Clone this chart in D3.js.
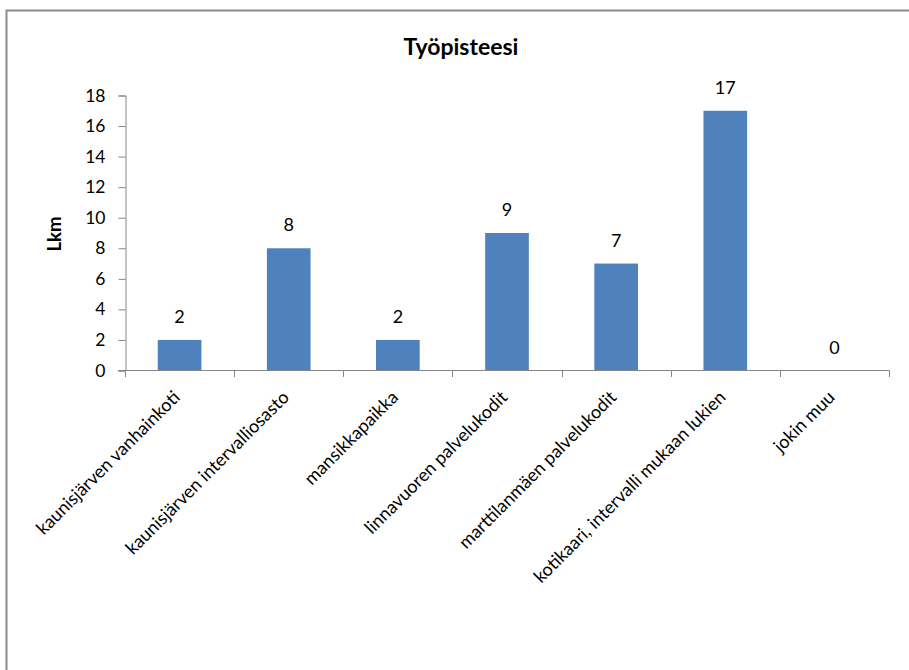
<!DOCTYPE html>
<html>
<head>
<meta charset="utf-8">
<script src="https://cdnjs.cloudflare.com/ajax/libs/d3/7.8.5/d3.min.js"></script>
<style>
  body { margin: 0; background: #fff; }
  svg { display: block; font-family: Lato, "Open Sans", sans-serif; }
</style>
</head>
<body>
<div class="chart"></div>
<script>
// data
const categories = [
  "kaunisjärven vanhainkoti",
  "kaunisjärven intervalliosasto",
  "mansikkapaikka",
  "linnavuoren palvelukodit",
  "marttilanmäen palvelukodit",
  "kotikaari, intervalli mukaan lukien",
  "jokin muu"
];
const counts = [2, 8, 2, 9, 7, 17, 0];
const yTicks = [0, 2, 4, 6, 8, 10, 12, 14, 16, 18];

var width = 909, height = 670;
var axisColor = "#868686";
var fontFam = "Lato, 'Open Sans', sans-serif";

var svg = d3.select(".chart")
    .append("svg")
    .attr("width", width)
    .attr("height", height);

// outer chart border (runs off the right and bottom edge)
svg.append("rect")
    .attr("x", 6.5)
    .attr("y", 10.5)
    .attr("width", 920)
    .attr("height", 680)
    .attr("fill", "#fff")
    .attr("stroke", "#8c8c8c")
    .attr("stroke-width", 2);

var x = d3.scaleBand()
    .domain(categories)
    .range([125, 889])
    .paddingInner(0.6)
    .paddingOuter(0.3);

var y = d3.scaleLinear()
    .domain([0, 18])
    .range([370.5, 95.5]);

svg.append("text")
    .attr("x", 461)
    .attr("y", 55)
    .attr("text-anchor", "middle")
    .attr("font-family", fontFam)
    .attr("font-size", 23)
    .attr("font-weight", "bold")
    .text("Työpisteesi");

svg.append("text")
    .attr("transform", "translate(61,234) rotate(-90)")
    .attr("text-anchor", "middle")
    .attr("font-family", fontFam)
    .attr("font-size", 18.5)
    .attr("font-weight", "bold")
    .text("Lkm");

// bars
svg.selectAll(".bar")
    .data(counts)
    .enter()
    .append("rect")
    .attr("class", "bar")
    .attr("x", function(d, i) { return x(categories[i]); })
    .attr("width", x.bandwidth())
    .attr("y", function(d) { return y(d); })
    .attr("height", function(d) { return y(0) - y(d); })
    .attr("fill", "#4F81BD");

// value labels
svg.selectAll(".val")
    .data(counts)
    .enter()
    .append("text")
    .attr("class", "val")
    .attr("x", function(d, i) { return x(categories[i]) + x.bandwidth() / 2; })
    .attr("y", function(d) { return y(d) - 17; })
    .attr("text-anchor", "middle")
    .attr("font-family", fontFam)
    .attr("font-size", 18)
    .text(function(d) { return d; });

// y axis
var yAxis = svg.append("g")
    .attr("transform", "translate(125.5,0)")
    .call(d3.axisLeft(y).tickValues(yTicks).tickSize(7).tickPadding(13));
yAxis.selectAll("text")
    .attr("font-family", fontFam)
    .attr("font-size", 17.5)
    .attr("fill", "#000");
yAxis.select(".domain").attr("stroke", axisColor);
yAxis.selectAll(".tick line").attr("stroke", axisColor);

// x axis: ticks between the categories
var xTickPos = d3.range(categories.length + 1).map(function(i) { return 125 + i * x.step(); });
var xAxis = svg.append("g");
xAxis.append("line")
    .attr("x1", 118).attr("x2", 889.5)
    .attr("y1", 370.5).attr("y2", 370.5)
    .attr("stroke", axisColor);
xAxis.selectAll(".xt")
    .data(xTickPos)
    .enter()
    .append("line")
    .attr("x1", function(d) { return Math.round(d) + 0.5; })
    .attr("x2", function(d) { return Math.round(d) + 0.5; })
    .attr("y1", 370.5).attr("y2", 377)
    .attr("stroke", axisColor);

xAxis.selectAll(".cat")
    .data(categories)
    .enter()
    .append("text")
    .attr("class", "cat")
    .attr("text-anchor", "end")
    .attr("font-family", fontFam)
    .attr("font-size", 18)
    .attr("transform", function(d) {
        var cx = x(d) + x.bandwidth() / 2 - 3;
        return "translate(" + cx + ",394) rotate(-45)";
    })
    .attr("dy", "0.35em")
    .text(function(d) { return d; });
</script>
</body>
</html>
